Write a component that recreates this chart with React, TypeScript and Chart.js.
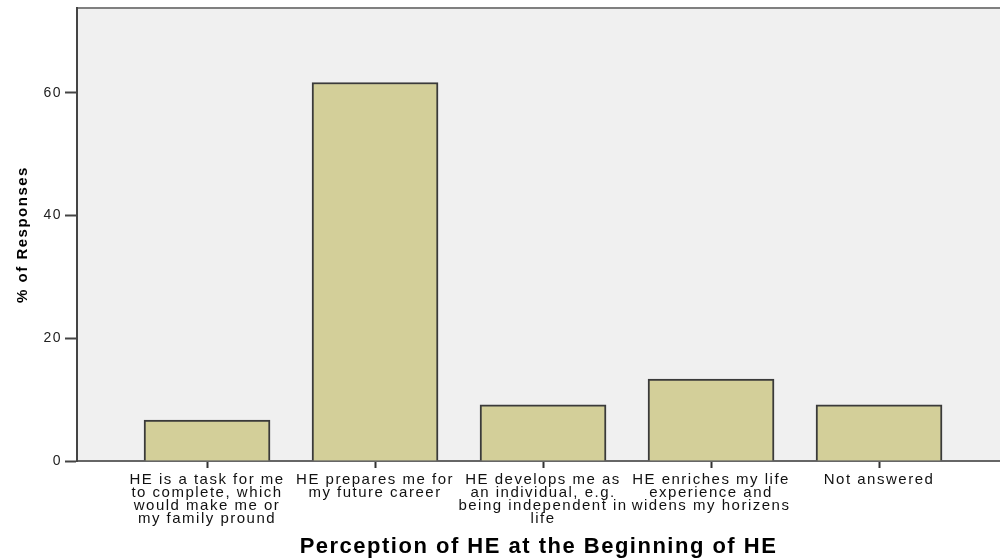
import React, { useEffect, useRef } from "react";
import { Chart, registerables } from "chart.js";

Chart.register(...registerables);

const categories: string[][] = [
  ["HE is a task for me", "to complete, which", "would make me or", "my family pround"],
  ["HE prepares me for", "my future career"],
  ["HE develops me as", "an individual, e.g.", "being independent in", "life"],
  ["HE enriches my life", "experience and", "widens my horizens"],
  ["Not answered"],
];
const percentValues: number[] = [6.67, 61.67, 9.17, 13.33, 9.17];
const yTickValues: number[] = [0, 20, 40, 60];
const xAxisTitle = "Perception of HE at the Beginning of HE";
const yAxisTitle = "% of Responses";

const SPACING = "1.5px";

const spacingPlugin = {
  id: "spacing",
  beforeUpdate(chart: any) {
    chart.ctx.letterSpacing = SPACING;
  },
  beforeDraw(chart: any) {
    const { ctx, chartArea } = chart;
    ctx.letterSpacing = SPACING;
    ctx.save();
    ctx.fillStyle = "#f0f0f0";
    ctx.fillRect(chartArea.left, chartArea.top, chartArea.right - chartArea.left, chartArea.bottom - chartArea.top);
    ctx.strokeStyle = "#808080";
    ctx.lineWidth = 2;
    ctx.beginPath();
    ctx.moveTo(chartArea.left, chartArea.top);
    ctx.lineTo(chartArea.right, chartArea.top);
    ctx.stroke();
    ctx.restore();
  },
};

export default function App() {
  const ref = useRef<HTMLCanvasElement | null>(null);
  useEffect(() => {
    if (!ref.current) return;
    const data = percentValues.map((v, i) => ({ x: i, y: v }));
    const chart = new Chart(ref.current, {
      type: "bar",
      data: {
        datasets: [
          {
            data,
            backgroundColor: "#d3cf99",
            borderColor: "#3a3a3a",
            borderWidth: 2,
            barThickness: 126,
          } as any,
        ],
      },
      options: {
        animation: false,
        responsive: false,
        layout: { padding: { top: 8, right: 0, bottom: 0, left: 0 } },
        plugins: { legend: { display: false }, tooltip: { enabled: false } },
        scales: {
          x: {
            type: "linear",
            offset: false,
            min: -0.774,
            max: 4.72,
            afterFit: (s: any) => {
              s.height = 97;
              s.paddingLeft = 0;
              s.paddingRight = 0;
            },
            afterBuildTicks: (s: any) => {
              s.ticks = categories.map((_, i) => ({ value: i }));
            },
            grid: {
              offset: false,
              drawOnChartArea: false,
              drawTicks: true,
              tickLength: 7,
              tickColor: "#333",
              tickWidth: 2,
            },
            border: { color: "#666", width: 2 },
            ticks: {
              autoSkip: false,
              maxRotation: 0,
              minRotation: 0,
              padding: 5,
              color: "#111",
              font: { family: "'Liberation Sans', Arial, sans-serif", size: 15, lineHeight: "13px" },
              callback: (v: any) => categories[v as number] ?? "",
            },
            title: {
              display: true,
              text: xAxisTitle,
              color: "#000",
              font: { family: "'Liberation Sans', Arial, sans-serif", size: 22, weight: "bold" },
              padding: { top: 0, bottom: -2 },
            },
          },
          y: {
            min: 0,
            max: 73.8,
            afterFit: (s: any) => {
              s.width = 77;
              s.paddingTop = 0;
              s.paddingBottom = 0;
            },
            afterBuildTicks: (s: any) => {
              s.ticks = yTickValues.map((v) => ({ value: v }));
            },
            grid: {
              drawOnChartArea: false,
              drawTicks: true,
              tickLength: 12,
              tickColor: "#444",
              tickWidth: 2,
            },
            border: { color: "#444", width: 2 },
            ticks: {
              padding: 3,
              color: "#222",
              font: { family: "'Liberation Sans', Arial, sans-serif", size: 14 },
            },
            title: {
              display: true,
              text: yAxisTitle,
              color: "#000",
              font: { family: "'Liberation Sans', Arial, sans-serif", size: 15, weight: "bold" },
              padding: { top: 14, bottom: 0 },
            },
          },
        },
      },
      plugins: [spacingPlugin],
    });
    return () => chart.destroy();
  }, []);
  return (
    <div style={{ position: "fixed", left: 0, top: 0, width: 1000, height: 558, background: "#fff" }}>
      <canvas ref={ref} width={1000} height={558} />
    </div>
  );
}
